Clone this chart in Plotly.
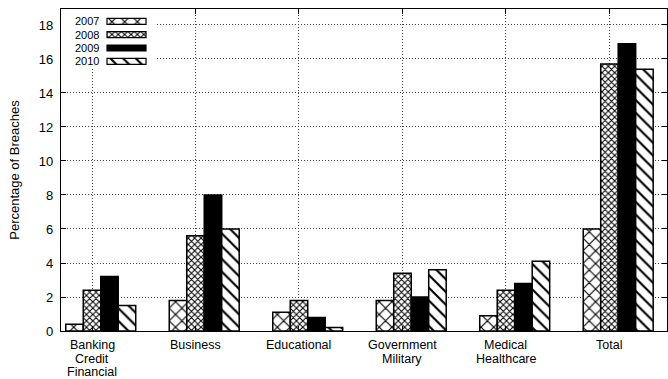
import plotly.graph_objects as go

# Breach categories and yearly percentages
categories = ["Banking<br>Credit<br>Financial", "Business", "Educational",
              "Government<br>Military", "Medical<br>Healthcare", "Total"]
years = ["2007", "2008", "2009", "2010"]
pct_2007 = [0.4, 1.8, 1.1, 1.8, 0.9, 6.0]
pct_2008 = [2.4, 5.6, 1.8, 3.4, 2.4, 15.7]
pct_2009 = [3.2, 8.0, 0.8, 2.0, 2.8, 16.9]
pct_2010 = [1.5, 6.0, 0.2, 3.6, 4.1, 15.4]
y_ticks = [0, 2, 4, 6, 8, 10, 12, 14, 16, 18]

series = [pct_2007, pct_2008, pct_2009, pct_2010]

# fill style per year: (pattern shape, pattern size, solidity, fill colour)
styles = [
    ("x", 9, 0.24, "white"),
    ("x", 4.5, 0.42, "white"),
    ("", 8, 0.3, "black"),
    ("\\", 9, 0.24, "white"),
]

FONT = "Liberation Sans, Arial, sans-serif"
W = 0.169  # width of one bar in category units
pos = list(range(len(categories)))

fig = go.Figure()

for j, (yr, vals) in enumerate(zip(years, series)):
    shape, size, sol, col = styles[j]
    fig.add_trace(go.Bar(
        x=pos, y=vals, name=yr, width=W, offset=(j - 1.5) * W,
        marker=dict(color=col, line=dict(color="black", width=1.5),
                    pattern=dict(shape=shape, size=size, solidity=sol,
                                 fgcolor="black", bgcolor="white",
                                 fillmode="replace")),
        showlegend=False, xaxis="x", yaxis="y",
    ))

# key: its own small subplot (in pixel-like units) whose white
# background also hides the grid behind it
KEY_ROWS = [12.4, 25.7, 39.0, 52.3]
for j, yr in enumerate(years):
    shape, size, sol, col = styles[j]
    fig.add_trace(go.Bar(
        x=[39], y=[KEY_ROWS[j]], orientation="h", width=6, base=46,
        marker=dict(color=col, line=dict(color="black", width=1.2),
                    pattern=dict(shape=shape, size=size, solidity=sol,
                                 fgcolor="black", bgcolor="white",
                                 fillmode="replace")),
        showlegend=False, hoverinfo="skip", xaxis="x2", yaxis="y2",
    ))
    fig.add_annotation(
        x=39, y=KEY_ROWS[j], xref="x2", yref="y2", text=yr, showarrow=False,
        xanchor="right", yanchor="middle", borderpad=0,
        font=dict(family=FONT, size=11, color="black"),
    )

# category labels, one line per annotation for tight line spacing
for i, cat in enumerate(categories):
    for k, line in enumerate(cat.split("<br>")):
        fig.add_annotation(
            x=i, y=0, xref="x", yref="paper", text=line, showarrow=False,
            xanchor="center", yanchor="middle", yshift=-(14 + 13.5 * k),
            borderpad=0,
            font=dict(family=FONT, size=12.5, color="black"),
        )

GRID = dict(showgrid=True, gridcolor="#444", griddash="1px,2px", gridwidth=1)

fig.update_layout(
    width=668, height=379,
    margin=dict(l=61, r=1, t=9, b=48),
    paper_bgcolor="white", plot_bgcolor="white",
    barmode="overlay",
    font=dict(family=FONT, size=13, color="black"),
    xaxis=dict(
        range=[-0.2995, 5.556], tickmode="array", tickvals=pos,
        showticklabels=False, **GRID,
        showline=True, linecolor="black", linewidth=1.2, mirror="ticks",
        ticks="inside", ticklen=5, tickcolor="black", zeroline=False,
    ),
    yaxis=dict(
        range=[0, 18.94], tickmode="array", tickvals=y_ticks, **GRID,
        showline=True, linecolor="black", linewidth=1.2, mirror="ticks",
        ticks="inside", ticklen=5, tickcolor="black", zeroline=False,
        ticklabelstandoff=4,
        title=dict(text="Percentage of Breaches", standoff=16,
                   font=dict(family=FONT, size=13, color="black")),
        tickfont=dict(family=FONT, size=13, color="black"),
    ),
    xaxis2=dict(domain=[0.0, 0.1568], range=[0, 95], visible=False,
                anchor="y2", fixedrange=True),
    yaxis2=dict(domain=[0.8199, 1.0], range=[58, 0], visible=False,
                anchor="x2", fixedrange=True),
)

fig.write_html("out.html")
